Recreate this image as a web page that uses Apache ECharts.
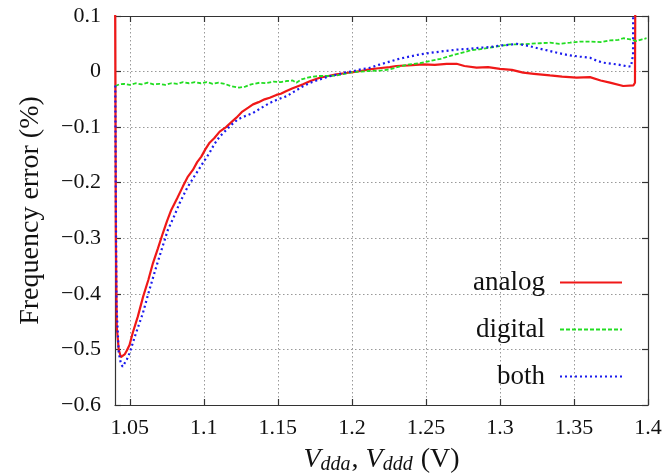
<!DOCTYPE html>
<html><head><meta charset="utf-8">
<script src="https://cdn.jsdelivr.net/npm/echarts@6/dist/echarts.min.js"></script>
<style>html,body{margin:0;padding:0;background:#fff}#c{width:666px;height:476px}</style>
</head><body><div id="c"></div>
<script>
const xTicks = [1.05, 1.1, 1.15, 1.2, 1.25, 1.3, 1.35, 1.4];
const seriesNames = ['analog', 'digital', 'both'];

const analog = [
[1.0401,0.12],[1.0406,-0.30],[1.0412,-0.46],[1.0425,-0.500],[1.0440,-0.514],[1.0452,-0.516],
[1.0465,-0.509],[1.0480,-0.502],[1.0498,-0.492],[1.0520,-0.470],[1.0554,-0.441],[1.0590,-0.405],
[1.0625,-0.375],[1.0656,-0.345],[1.0690,-0.318],[1.0723,-0.291],[1.0750,-0.270],[1.0780,-0.249],
[1.0820,-0.228],[1.0858,-0.207],[1.0890,-0.190],[1.0926,-0.177],[1.0955,-0.163],[1.0983,-0.153],
[1.1010,-0.140],[1.1039,-0.128],[1.1070,-0.120],[1.1107,-0.108],[1.1150,-0.100],[1.1190,-0.090],
[1.1220,-0.083],[1.1260,-0.072],[1.1300,-0.065],[1.1332,-0.059],[1.1370,-0.055],[1.1410,-0.050],
[1.1445,-0.047],[1.1490,-0.042],[1.1520,-0.040],[1.1558,-0.035],[1.1600,-0.030],[1.1640,-0.026],
[1.1670,-0.023],[1.1720,-0.017],[1.1783,-0.011],[1.1840,-0.008],[1.1896,-0.005],[1.1950,-0.003],
[1.2008,-0.001],[1.2060,0.001],[1.2120,0.004],[1.2180,0.006],[1.2256,0.008],[1.2300,0.010],
[1.2380,0.011],[1.2481,0.013],[1.2560,0.012],[1.2640,0.014],[1.2707,0.014],[1.2760,0.010],
[1.2842,0.007],[1.2920,0.008],[1.3000,0.005],[1.3080,0.003],[1.3157,-0.002],[1.3230,-0.004],
[1.3338,-0.007],[1.3420,-0.009],[1.3518,-0.011],[1.3608,-0.010],[1.3680,-0.016],[1.3743,-0.020],
[1.3833,-0.026],[1.3901,-0.025],[1.3912,-0.020],[1.3914,0.12]
];

const digital = [
[1.0402,-0.026],[1.0430,-0.023],[1.0460,-0.022],[1.0500,-0.024],[1.0540,-0.021],[1.0580,-0.023],
[1.0620,-0.020],[1.0660,-0.023],[1.0700,-0.022],[1.0740,-0.024],[1.0780,-0.021],[1.0820,-0.022],
[1.0860,-0.019],[1.0900,-0.021],[1.0940,-0.019],[1.0980,-0.021],[1.1020,-0.019],[1.1060,-0.022],
[1.1100,-0.020],[1.1140,-0.022],[1.1180,-0.026],[1.1238,-0.029],[1.1280,-0.027],[1.1320,-0.023],
[1.1377,-0.020],[1.1420,-0.021],[1.1470,-0.018],[1.1520,-0.019],[1.1558,-0.017],[1.1600,-0.016],
[1.1625,-0.020],[1.1660,-0.014],[1.1700,-0.011],[1.1740,-0.009],[1.1780,-0.008],[1.1840,-0.008],
[1.1900,-0.007],[1.1950,-0.004],[1.2008,-0.001],[1.2060,0.000],[1.2120,0.001],[1.2200,0.002],
[1.2256,0.004],[1.2320,0.009],[1.2390,0.013],[1.2460,0.015],[1.2526,0.019],[1.2600,0.023],
[1.2660,0.028],[1.2730,0.033],[1.2800,0.038],[1.2860,0.040],[1.2932,0.043],[1.3000,0.046],
[1.3067,0.049],[1.3140,0.049],[1.3203,0.050],[1.3270,0.051],[1.3338,0.052],[1.3400,0.050],
[1.3473,0.052],[1.3540,0.054],[1.3608,0.054],[1.3680,0.053],[1.3743,0.056],[1.3800,0.057],
[1.3833,0.060],[1.3880,0.058],[1.3924,0.055],[1.3960,0.058],[1.3990,0.060]
];

const both = [
[1.0402,-0.025],[1.0405,-0.20],[1.0410,-0.42],[1.0425,-0.505],[1.0440,-0.526],[1.0452,-0.531],
[1.0465,-0.525],[1.0480,-0.518],[1.0498,-0.507],[1.0540,-0.472],[1.0588,-0.435],[1.0630,-0.395],
[1.0679,-0.351],[1.0720,-0.316],[1.0757,-0.285],[1.0800,-0.260],[1.0836,-0.237],[1.0890,-0.208],
[1.0949,-0.183],[1.1000,-0.162],[1.1039,-0.146],[1.1070,-0.131],[1.1107,-0.117],[1.1152,-0.105],
[1.1190,-0.095],[1.1230,-0.086],[1.1280,-0.080],[1.1332,-0.0745],[1.1390,-0.065],[1.1445,-0.0565],
[1.1500,-0.050],[1.1558,-0.0445],[1.1610,-0.036],[1.1670,-0.0265],[1.1720,-0.020],[1.1780,-0.0144],
[1.1840,-0.009],[1.1900,-0.0054],[1.1950,-0.002],[1.2008,0.0006],[1.2060,0.004],[1.2120,0.0067],
[1.2180,0.012],[1.2256,0.018],[1.2320,0.023],[1.2390,0.027],[1.2460,0.031],[1.2526,0.0336],
[1.2600,0.036],[1.2660,0.038],[1.2730,0.040],[1.2800,0.041],[1.2870,0.043],[1.2932,0.044],
[1.3000,0.047],[1.3060,0.048],[1.3113,0.050],[1.3160,0.048],[1.3203,0.0456],[1.3270,0.041],
[1.3338,0.037],[1.3400,0.033],[1.3473,0.029],[1.3540,0.027],[1.3608,0.025],[1.3650,0.020],
[1.3698,0.016],[1.3789,0.013],[1.3850,0.010],[1.3885,0.009],[1.3899,0.03],[1.3900,0.12]
];

const FONT = '"Liberation Serif", "DejaVu Serif", serif';
const axisLineStyle = { color: '#333', width: 1.2 };
const gridLine = { show: true, lineStyle: { color: '#999', width: 1, type: [1.5, 2.5] } };

const chart = echarts.init(document.getElementById('c'), null, { renderer: 'canvas' });
chart.setOption({
  backgroundColor: '#fff',
  animation: false,
  grid: { left: 115, right: 18, top: 16, bottom: 71, containLabel: false, outerBoundsMode: 'none' },
  legend: {
    data: seriesNames,
    orient: 'vertical',
    right: 38,
    top: 264,
    align: 'right',
    itemWidth: 62,
    itemHeight: 14,
    itemGap: 20,
    itemStyle: { opacity: 0, borderWidth: 0 },
    textStyle: { fontFamily: FONT, fontSize: 27, color: '#111', padding: [0, 10, 0, 0] }
  },
  xAxis: [{
    type: 'value', min: 1.04, max: 1.4, position: 'bottom',
    name: '{i|V}{s|dda}{n|, }{i|V}{s|ddd}{n| (V)}',
    nameLocation: 'middle', nameGap: 40,
    nameTextStyle: {
      rich: {
        i: { fontFamily: FONT, fontStyle: 'italic', fontSize: 28, color: '#111' },
        s: { fontFamily: FONT, fontStyle: 'italic', fontSize: 20, color: '#111', padding: [10, 1, 0, 0] },
        n: { fontFamily: FONT, fontSize: 28, color: '#111' }
      }
    },
    axisLine: { show: true, onZero: false, lineStyle: axisLineStyle },
    axisTick: { show: true, inside: true, length: 6, customValues: xTicks, lineStyle: axisLineStyle },
    axisLabel: { customValues: xTicks, fontFamily: FONT, fontSize: 22, color: '#111', margin: 12,
      formatter: v => String(Math.round(v * 100) / 100) },
    splitLine: gridLine
  }, {
    type: 'value', min: 1.04, max: 1.4, position: 'top',
    axisLine: { show: true, onZero: false, lineStyle: axisLineStyle },
    axisTick: { show: true, inside: true, length: 6, customValues: xTicks, lineStyle: axisLineStyle },
    axisLabel: { show: false },
    splitLine: { show: false }
  }],
  yAxis: [{
    type: 'value', min: -0.6, max: 0.1, interval: 0.1, position: 'left',
    name: 'Frequency error (%)', nameLocation: 'middle', nameGap: 70,
    nameTextStyle: { fontFamily: FONT, fontSize: 28, color: '#111' },
    axisLine: { show: true, onZero: false, lineStyle: axisLineStyle },
    axisTick: { show: true, inside: true, length: 6, lineStyle: axisLineStyle },
    axisLabel: { fontFamily: FONT, fontSize: 22, color: '#111', margin: 14,
      formatter: v => { const r = Math.round(v * 10) / 10; return r === 0 ? '0' : String(r).replace('-', '\u2212'); } },
    splitLine: gridLine
  }, {
    type: 'value', min: -0.6, max: 0.1, interval: 0.1, position: 'right',
    axisLine: { show: true, onZero: false, lineStyle: axisLineStyle },
    axisTick: { show: true, inside: true, length: 6, lineStyle: axisLineStyle },
    axisLabel: { show: false },
    splitLine: { show: false }
  }],
  series: [{
    name: 'analog', type: 'line', data: analog, xAxisIndex: 0, yAxisIndex: 0,
    symbol: 'none', showSymbol: false, clip: true,
    lineStyle: { color: '#f01818', width: 2.2 }, itemStyle: { color: '#f01818' }
  }, {
    name: 'digital', type: 'line', data: digital, xAxisIndex: 0, yAxisIndex: 0,
    symbol: 'none', showSymbol: false, clip: true,
    lineStyle: { color: '#22dd22', width: 1.8, type: [4, 2] }, itemStyle: { color: '#22dd22' }
  }, {
    name: 'both', type: 'line', data: both, xAxisIndex: 0, yAxisIndex: 0,
    symbol: 'none', showSymbol: false, clip: true,
    lineStyle: { color: '#1a1aee', width: 2.2, type: [2, 3] }, itemStyle: { color: '#1a1aee' }
  }]
});
</script>
</body></html>
